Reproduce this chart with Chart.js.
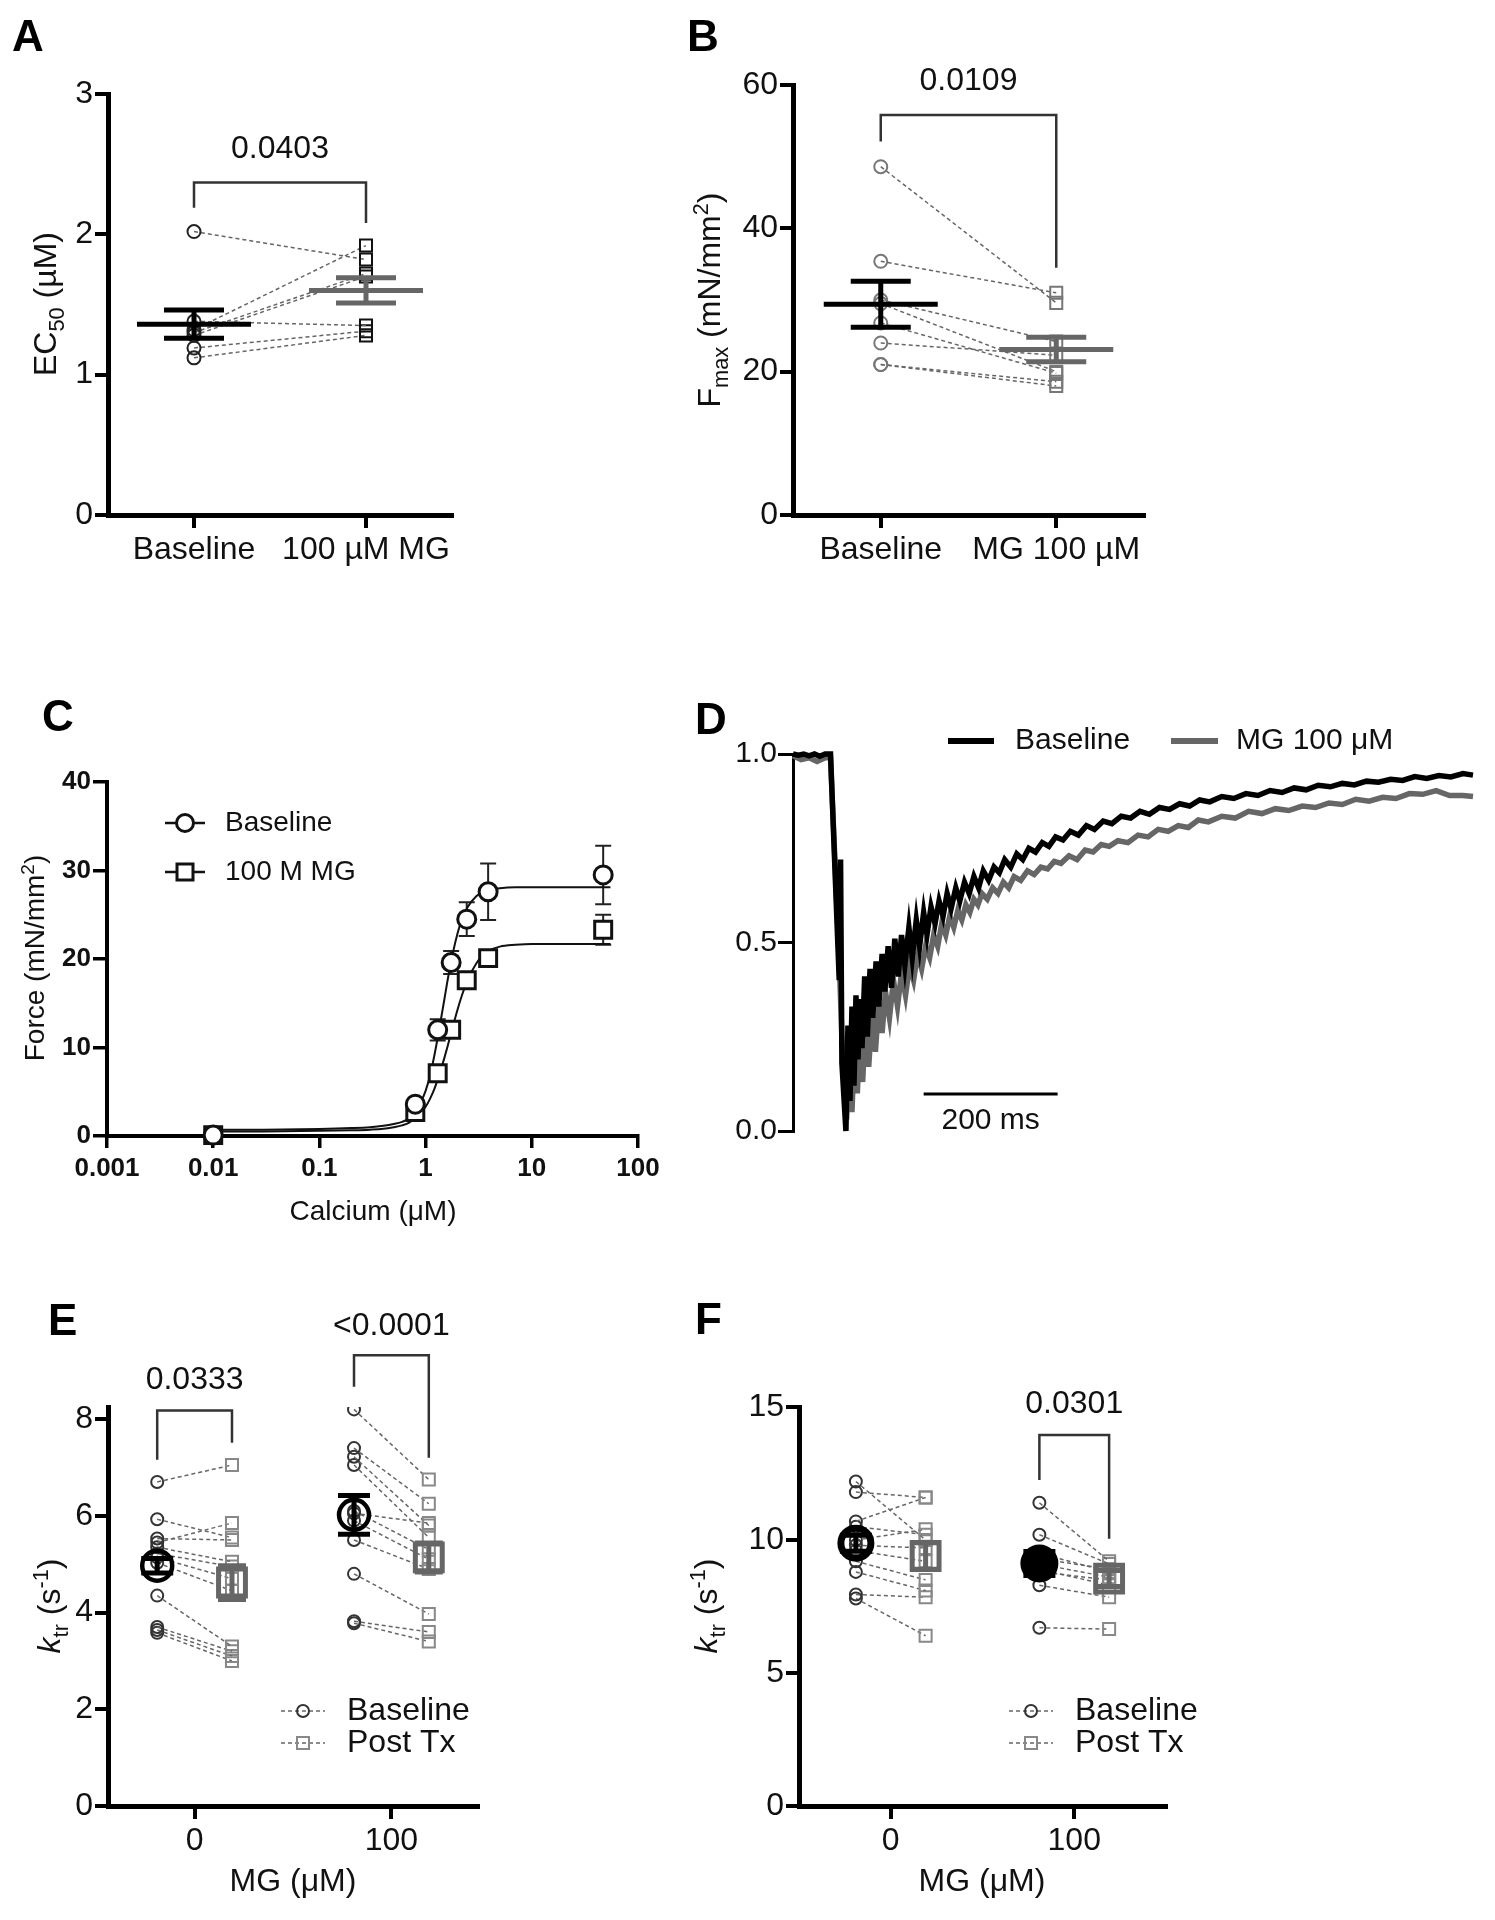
<!DOCTYPE html>
<html>
<head>
<meta charset="utf-8">
<title>MG contractility figure</title>
<script src="https://cdn.jsdelivr.net/npm/chart.js@4.4.1/dist/chart.umd.min.js"></script>
<style>
  html, body { margin: 0; padding: 0; background: #fff; }
  #page { position: relative; width: 1495px; height: 1920px; overflow: hidden; background: #fff; }
  #page canvas { position: absolute; }
</style>
</head>
<body>
<div id="page">
  <canvas id="chartA" width="690" height="620" style="left:0px;top:0px"></canvas>
  <canvas id="chartB" width="805" height="620" style="left:690px;top:0px"></canvas>
  <canvas id="chartC" width="690" height="620" style="left:0px;top:640px"></canvas>
  <canvas id="chartD" width="805" height="620" style="left:690px;top:640px"></canvas>
  <canvas id="chartE" width="690" height="650" style="left:0px;top:1270px"></canvas>
  <canvas id="chartF" width="805" height="650" style="left:690px;top:1270px"></canvas>
</div>
<script>
// ---------- A: EC50 ----------
const ecCategories = ['Baseline', '100 µM MG'];
const ecBaseline = [2.02, 1.38, 1.32, 1.30, 1.28, 1.19, 1.12];
const ecMG = [1.82, 1.35, 1.92, 1.72, 1.70, 1.31, 1.28];
const ecMean = [1.36, 1.60];
const ecSem = [0.10, 0.09];
const ecTicks = [0, 1, 2, 3];

// ---------- B: Fmax ----------
const fmaxCategories = ['Baseline', 'MG 100 µM'];
const fmaxBaseline = [48.6, 35.4, 30.0, 29.5, 26.8, 24.0, 21.0, 21.0];
const fmaxMG = [29.6, 31.0, 24.2, 20.0, 19.8, 22.3, 18.6, 18.0];
const fmaxMean = [29.4, 23.1];
const fmaxSem = [3.2, 1.7];
const fmaxTicks = [0, 20, 40, 60];

// ---------- C: force-calcium ----------
const calcium = [0.01, 0.8, 1.3, 1.74, 2.44, 3.88, 47];
const forceBaseline = [0.1, 3.6, 12.0, 19.6, 24.5, 27.6, 29.5];
const forceBaselineErr = [0.3, 0.5, 1.2, 1.3, 1.9, 3.2, 3.3];
const forceMG = [0.1, 2.7, 7.1, 12.0, 17.6, 20.1, 23.3];
const forceMGErr = [0.2, 0.4, 0.5, 0.6, 0.7, 0.6, 1.7];
const fitCalcium = [0.01, 0.03, 0.1, 0.2, 0.3, 0.4, 0.5, 0.6, 0.7, 0.8, 0.9, 1.0, 1.1, 1.2, 1.3, 1.4, 1.5, 1.6, 1.7, 1.8, 2.0, 2.2, 2.5, 3.0, 3.5, 4.0, 5.0, 7.0, 10, 20, 55];
const fitBaseline = [0.7, 0.72, 0.8, 0.9, 1.0, 1.15, 1.35, 1.6, 2.0, 2.8, 3.8, 5.1, 6.8, 8.9, 11.1, 13.3, 15.4, 17.4, 19.1, 20.6, 22.9, 24.5, 25.9, 27.1, 27.6, 27.8, 28.0, 28.1, 28.1, 28.1, 28.1];
const fitMG = [0.5, 0.52, 0.58, 0.65, 0.72, 0.82, 1.0, 1.2, 1.5, 2.1, 2.6, 3.3, 4.2, 5.2, 6.4, 7.6, 8.8, 10.0, 11.2, 12.3, 14.3, 15.9, 17.7, 19.5, 20.5, 21.0, 21.4, 21.6, 21.7, 21.7, 21.7];
const calciumTicks = [0.001, 0.01, 0.1, 1, 10, 100];
const calciumTickLabels = ['0.001', '0.01', '0.1', '1', '10', '100'];
const forceTicks = [0, 10, 20, 30, 40];

// ---------- D: ktr traces (ms, normalised force) ----------
const traceTimeBaseline = [0, 8, 16, 24, 32, 40, 48, 56, 69, 71, 73, 79, 82, 85, 88, 91, 94, 97, 100, 103, 107, 111, 115, 119, 124, 128, 133, 137, 142, 147, 152, 157, 162, 167, 173, 178, 184, 189, 195, 200, 206, 212, 218, 224, 230, 236, 243, 249, 256, 263, 270, 277, 284, 292, 300, 308, 316, 325, 334, 343, 352, 362, 372, 382, 392, 403, 414, 426, 438, 450, 463, 476, 490, 504, 518, 532, 547, 562, 577, 592, 607, 622, 640, 658, 676, 694, 712, 730, 748, 766, 784, 802, 820, 838, 856, 874, 892, 910, 928, 946, 964, 982, 1000, 1015];
const traceBaseline = [1.0, 0.997, 1.0, 0.995, 1.0, 0.994, 1.0, 1.0, 0.40, 0.72, 0.18, 0.0, 0.28, 0.08, 0.33, 0.12, 0.36, 0.19, 0.35, 0.22, 0.41, 0.25, 0.43, 0.30, 0.45, 0.33, 0.47, 0.37, 0.49, 0.38, 0.51, 0.41, 0.52, 0.44, 0.54, 0.46, 0.56, 0.49, 0.58, 0.52, 0.595, 0.55, 0.61, 0.57, 0.63, 0.59, 0.645, 0.61, 0.66, 0.63, 0.675, 0.645, 0.69, 0.665, 0.70, 0.685, 0.72, 0.70, 0.735, 0.72, 0.75, 0.74, 0.765, 0.755, 0.78, 0.772, 0.795, 0.785, 0.81, 0.80, 0.822, 0.815, 0.835, 0.83, 0.848, 0.84, 0.858, 0.853, 0.868, 0.862, 0.878, 0.873, 0.887, 0.882, 0.895, 0.89, 0.903, 0.898, 0.91, 0.905, 0.917, 0.913, 0.922, 0.918, 0.928, 0.925, 0.933, 0.93, 0.94, 0.935, 0.943, 0.939, 0.948, 0.944];
const traceTimeMG = [0, 12, 24, 36, 48, 56, 69, 73, 80, 84, 88, 92, 96, 100, 104, 108, 113, 118, 123, 128, 133, 138, 144, 150, 156, 162, 168, 174, 180, 186, 192, 198, 204, 210, 216, 222, 228, 234, 240, 246, 252, 258, 264, 270, 276, 282, 290, 298, 306, 314, 322, 330, 340, 350, 360, 370, 380, 390, 400, 412, 424, 436, 448, 460, 472, 485, 500, 515, 530, 545, 560, 575, 590, 605, 620, 640, 660, 680, 700, 720, 740, 760, 780, 800, 820, 840, 860, 880, 900, 920, 940, 960, 980, 1000, 1015];
const traceMG = [0.995, 0.985, 0.99, 0.98, 0.99, 0.99, 0.45, 0.25, 0.03, 0.22, 0.05, 0.24, 0.10, 0.26, 0.13, 0.29, 0.17, 0.31, 0.21, 0.34, 0.26, 0.37, 0.30, 0.40, 0.33, 0.42, 0.36, 0.44, 0.40, 0.47, 0.43, 0.49, 0.46, 0.52, 0.49, 0.55, 0.52, 0.57, 0.54, 0.585, 0.56, 0.60, 0.58, 0.615, 0.60, 0.63, 0.615, 0.645, 0.63, 0.66, 0.645, 0.675, 0.665, 0.69, 0.68, 0.70, 0.695, 0.715, 0.71, 0.73, 0.72, 0.745, 0.74, 0.76, 0.755, 0.77, 0.765, 0.785, 0.78, 0.80, 0.795, 0.81, 0.805, 0.825, 0.82, 0.835, 0.83, 0.848, 0.842, 0.855, 0.85, 0.862, 0.858, 0.87, 0.866, 0.88, 0.875, 0.885, 0.882, 0.895, 0.893, 0.903, 0.89, 0.89, 0.887];
const traceTicks = [0, 0.5, 1];
const scaleBarStartMs = 195;
const scaleBarLengthMs = 200;

// ---------- E / F: ktr ----------
const mgGroups = [0, 100];
const mgTickLabels = ['0', '100'];
const ktrE0Baseline = [6.70, 5.93, 5.53, 5.45, 5.35, 5.22, 5.14, 5.03, 4.35, 3.70, 3.64, 3.58];
const ktrE0Post = [7.05, 5.55, 5.50, 5.85, 5.05, 4.95, 4.70, 4.45, 3.30, 3.20, 3.10, 3.00];
const ktrE100Baseline = [8.20, 7.40, 7.22, 7.05, 6.10, 6.05, 5.90, 5.50, 4.80, 3.82, 3.78];
const ktrE100Post = [6.75, 6.25, 5.80, 5.55, 5.30, 5.85, 5.10, 4.90, 3.97, 3.60, 3.40];
const ktrEMeanBaseline = [4.97, 6.02];
const ktrESemBaseline = [0.15, 0.40];
const ktrEMeanPost = [4.62, 5.14];
const ktrESemPost = [0.35, 0.30];
const ktrETicks = [0, 2, 4, 6, 8];

const ktrF0Baseline = [12.2, 11.8, 10.7, 10.5, 10.0, 9.8, 9.6, 9.2, 8.8, 7.95, 7.8];
const ktrF0Post = [10.0, 11.6, 11.6, 10.2, 10.4, 9.7, 9.2, 8.5, 8.1, 7.85, 6.4];
const ktrF100Baseline = [11.4, 10.2, 9.5, 9.3, 9.1, 8.9, 8.8, 8.3, 6.7];
const ktrF100Post = [9.2, 9.1, 8.8, 8.9, 8.6, 8.3, 8.5, 7.85, 6.65];
const ktrFMeanBaseline = [9.88, 9.12];
const ktrFSemBaseline = [0.3, 0.45];
const ktrFMeanPost = [9.40, 8.55];
const ktrFSemPost = [0.5, 0.3];
const ktrFTicks = [0, 5, 10, 15];

// ---------- layout ----------
const FAMILY = '"Liberation Sans", Arial, Helvetica, sans-serif';
const INK = '#111';
const PAIR_OFFSET = 19;

const GA = {left: 0, top: 0, w: 690, h: 620, x0: 108, x1: 452, y0: 94, y1: 515, xh: 80};
const GB = {left: 690, top: 0, w: 805, h: 620, x0: 793, x1: 1144, y0: 85, y1: 515, xh: 80};
const GC = {left: 0, top: 640, w: 690, h: 620, x0: 107, x1: 638, y0: 782, y1: 1136, xh: 60};
const GD = {left: 690, top: 640, w: 805, h: 620, x0: 793, x1: 1473, y0: 754, y1: 1131, xh: 0};
const GE = {left: 0, top: 1270, w: 690, h: 650, x0: 108, x1: 478, y0: 1407, y1: 1806, xh: 60};
const GF = {left: 690, top: 1270, w: 805, h: 650, x0: 799, x1: 1166, y0: 1407, y1: 1806, xh: 60};

const cssFont = (size, weight, style) => `${style || 'normal'} ${weight || 'normal'} ${size}px ${FAMILY}`;

function axis(g, which, o) {
  const a = Object.assign({
    grid: {drawOnChartArea: false, drawTicks: true, tickLength: o.tick || 13, color: '#000', lineWidth: o.tickWidth || 4, offset: false},
    border: {display: true, color: '#000', width: o.border || 5},
    ticks: {color: INK, padding: o.pad == null ? 2 : o.pad, autoSkip: false, maxRotation: 0,
            font: {family: FAMILY, size: o.size || 32, weight: o.weight || 'normal'}},
  }, o.scale || {});
  a.afterFit = which === 'y' ? s => { s.width = g.x0 - g.left; } : s => { s.height = g.xh; };
  if (o.values) a.afterBuildTicks = s => { s.ticks = o.values.map(v => ({value: v})); };
  if (o.callback) a.ticks.callback = o.callback;
  return a;
}

function options(g, scales) {
  return {
    responsive: false, animation: false, events: [],
    layout: {padding: {left: 0, right: g.left + g.w - g.x1, top: g.y0 - g.top, bottom: g.top + g.h - g.y1 - g.xh}},
    plugins: {legend: {display: false}, tooltip: {enabled: false}},
    scales,
  };
}

// text written in page coordinates
function pageText(g, draw) {
  return {
    id: 'pageText',
    afterDraw(chart) {
      const ctx = chart.ctx;
      ctx.save();
      ctx.translate(-g.left, -g.top);
      draw(ctx, chart);
      ctx.restore();
    }
  };
}

function letter(ctx, t, x, y) {
  ctx.font = cssFont(44, 'bold');
  ctx.fillStyle = '#000';
  ctx.textAlign = 'left';
  ctx.textBaseline = 'alphabetic';
  ctx.fillText(t, x, y);
}

function plain(ctx, t, x, y, size, align) {
  ctx.font = cssFont(size);
  ctx.fillStyle = INK;
  ctx.textAlign = align || 'center';
  ctx.textBaseline = 'middle';
  ctx.fillText(t, x, y);
}

// parts: [text, mode] with mode '', 'sub', 'sup', 'i'
function rich(ctx, parts, x, y, size, rotate) {
  ctx.save();
  ctx.translate(x, y);
  if (rotate) ctx.rotate(-Math.PI / 2);
  ctx.fillStyle = INK;
  ctx.textAlign = 'left';
  ctx.textBaseline = rotate ? 'alphabetic' : 'middle';
  const pieces = parts.map(([t, mode]) => {
    const small = mode === 'sub' || mode === 'sup';
    const f = cssFont(small ? size * 0.68 : size, 'normal', mode === 'i' ? 'italic' : 'normal');
    ctx.font = f;
    return {t, f, w: ctx.measureText(t).width, dy: mode === 'sub' ? size * 0.26 : mode === 'sup' ? -size * 0.36 : 0};
  });
  let cx = -pieces.reduce((s, p) => s + p.w, 0) / 2;
  pieces.forEach(p => { ctx.font = p.f; ctx.fillText(p.t, cx, p.dy); cx += p.w; });
  ctx.restore();
}

function bracket(chart, b) {
  const {ctx, scales: {x, y}} = chart;
  const xa = x.getPixelForValue(b.from), xb = x.getPixelForValue(b.to);
  const yt = y.getPixelForValue(b.top);
  ctx.save();
  ctx.strokeStyle = '#333';
  ctx.lineWidth = 2.5;
  ctx.beginPath();
  ctx.moveTo(xa, y.getPixelForValue(b.leftEnd));
  ctx.lineTo(xa, yt);
  ctx.lineTo(xb, yt);
  ctx.lineTo(xb, y.getPixelForValue(b.rightEnd));
  ctx.stroke();
  ctx.font = cssFont(32);
  ctx.fillStyle = INK;
  ctx.textAlign = 'center';
  ctx.textBaseline = 'middle';
  ctx.fillText(b.label, (xa + xb) / 2, y.getPixelForValue(b.labelAt));
  ctx.restore();
}

function errorBar(ctx, x, yTop, yBot, half, width, color) {
  ctx.strokeStyle = color;
  ctx.lineWidth = width;
  ctx.beginPath();
  ctx.moveTo(x, yTop); ctx.lineTo(x, yBot);
  ctx.moveTo(x - half, yTop); ctx.lineTo(x + half, yTop);
  ctx.moveTo(x - half, yBot); ctx.lineTo(x + half, yBot);
  ctx.stroke();
}

// mean line with SEM for the paired category plots
function meanPlugin(mean, sem, colors, brk) {
  return {
    id: 'meanMarks',
    afterDatasetsDraw(chart) {
      const {ctx, scales: {x, y}} = chart;
      ctx.save();
      ctx.lineCap = 'butt';
      mean.forEach((m, i) => {
        const cx = x.getPixelForValue(i);
        const cy = y.getPixelForValue(m);
        errorBar(ctx, cx, y.getPixelForValue(m + sem[i]), y.getPixelForValue(m - sem[i]), 30, 5, colors[i]);
        ctx.lineWidth = 5;
        ctx.beginPath();
        ctx.moveTo(cx - 57, cy); ctx.lineTo(cx + 57, cy);
        ctx.stroke();
      });
      ctx.restore();
      bracket(chart, brk);
    }
  };
}

function pairedCategory(id, g, cats, base, treat, ptColors, yMax, yTicks, meanP, textP) {
  return new Chart(document.getElementById(id), {
    type: 'line',
    data: {
      labels: cats,
      datasets: base.map((b, i) => ({
        data: [b, treat[i]],
        borderColor: '#666', borderWidth: 1.5, borderDash: [4, 3],
        pointStyle: ['circle', 'rect'], pointRadius: [6.5, 8.5], pointBorderWidth: 2,
        pointBorderColor: ptColors, pointBackgroundColor: 'rgba(255,255,255,0)',
        clip: false,
      })),
    },
    options: options(g, {
      x: axis(g, 'x', {pad: 3, scale: {type: 'category', offset: true}}),
      y: axis(g, 'y', {values: yTicks, scale: {min: 0, max: yMax}}),
    }),
    plugins: [meanP, textP],
  });
}

// ---------- A ----------
pairedCategory('chartA', GA, ecCategories, ecBaseline, ecMG, ['#222', '#111'], 3, ecTicks,
  meanPlugin(ecMean, ecSem, ['#000', '#666'], {from: 0, to: 1, top: 2.37, leftEnd: 2.19, rightEnd: 2.08, label: '0.0403', labelAt: 2.61}),
  pageText(GA, ctx => {
    letter(ctx, 'A', 12, 51);
    rich(ctx, [['EC', ''], ['50', 'sub'], [' (µM)', '']], 56, 304, 32, true);
  }));

// ---------- B ----------
pairedCategory('chartB', GB, fmaxCategories, fmaxBaseline, fmaxMG, ['#777', '#777'], 60, fmaxTicks,
  meanPlugin(fmaxMean, fmaxSem, ['#000', '#666'], {from: 0, to: 1, top: 55.8, leftEnd: 52.1, rightEnd: 34.5, label: '0.0109', labelAt: 60.6}),
  pageText(GB, ctx => {
    letter(ctx, 'B', 687, 51);
    rich(ctx, [['F', ''], ['max', 'sub'], [' (mN/mm', ''], ['2', 'sup'], [')', '']], 720, 300, 32, true);
  }));

// ---------- C ----------
const xy = (xs, ys) => xs.map((v, i) => ({x: v, y: ys[i]}));

new Chart(document.getElementById('chartC'), {
  type: 'scatter',
  data: {
    datasets: [
      {data: xy(calcium, forceBaseline), pointStyle: 'circle', pointRadius: 9, pointBorderWidth: 3,
       pointBorderColor: '#111', pointBackgroundColor: '#fff', showLine: false, clip: false},
      {data: xy(calcium, forceMG), pointStyle: 'rect', pointRadius: 12, pointBorderWidth: 3,
       pointBorderColor: '#111', pointBackgroundColor: '#fff', showLine: false, clip: false},
      {data: xy(fitCalcium, fitBaseline), showLine: true, pointRadius: 0, borderColor: '#111', borderWidth: 2,
       cubicInterpolationMode: 'monotone'},
      {data: xy(fitCalcium, fitMG), showLine: true, pointRadius: 0, borderColor: '#111', borderWidth: 2,
       cubicInterpolationMode: 'monotone'},
    ],
  },
  options: options(GC, {
    x: axis(GC, 'x', {values: calciumTicks, size: 26, weight: 'bold', pad: 5, tick: 12, tickWidth: 3.5, border: 4,
                      callback: (v, i) => calciumTickLabels[i], scale: {type: 'logarithmic', min: 0.001, max: 100}}),
    y: axis(GC, 'y', {values: forceTicks, size: 26, weight: 'bold', tick: 14, tickWidth: 3.5, border: 4,
                      scale: {min: 0, max: 40}}),
  }),
  plugins: [
    {
      id: 'forceErrors',
      beforeDatasetsDraw(chart) {
        const {ctx, scales: {x, y}} = chart;
        ctx.save();
        [[forceBaseline, forceBaselineErr], [forceMG, forceMGErr]].forEach(([ys, es]) => {
          calcium.forEach((c, i) => {
            errorBar(ctx, x.getPixelForValue(c), y.getPixelForValue(ys[i] + es[i]), y.getPixelForValue(ys[i] - es[i]), 8, 2, '#222');
          });
        });
        ctx.restore();
      }
    },
    pageText(GC, ctx => {
      letter(ctx, 'C', 42, 731);
      rich(ctx, [['Force (mN/mm', ''], ['2', 'sup'], [')', '']], 44, 958, 28, true);
      plain(ctx, 'Calcium (μM)', 373, 1212, 28);
      // legend
      ctx.strokeStyle = '#111';
      ctx.lineWidth = 2.5;
      ctx.beginPath();
      ctx.moveTo(165, 823); ctx.lineTo(205, 823);
      ctx.moveTo(165, 872); ctx.lineTo(205, 872);
      ctx.stroke();
      ctx.fillStyle = '#fff';
      ctx.lineWidth = 3;
      ctx.beginPath(); ctx.arc(185, 823, 8.5, 0, Math.PI * 2); ctx.fill(); ctx.stroke();
      ctx.fillRect(177, 864, 16, 16); ctx.strokeRect(177, 864, 16, 16);
      plain(ctx, 'Baseline', 225, 823, 28, 'left');
      plain(ctx, '100 M MG', 225, 872, 28, 'left');
    }),
  ],
});

// ---------- D ----------
new Chart(document.getElementById('chartD'), {
  type: 'scatter',
  data: {
    datasets: [
      {data: xy(traceTimeBaseline, traceBaseline), showLine: true, pointRadius: 0, borderColor: '#000', borderWidth: 5.5, clip: false},
      {data: xy(traceTimeMG, traceMG), showLine: true, pointRadius: 0, borderColor: '#666', borderWidth: 5.5, clip: false},
    ],
  },
  options: options(GD, {
    x: {type: 'linear', min: 0, max: 1015, display: false},
    y: axis(GD, 'y', {values: traceTicks, size: 30, tick: 15, tickWidth: 3, border: 3, pad: 1,
                      callback: v => v.toFixed(1), scale: {min: 0, max: 1}}),
  }),
  plugins: [
    {
      id: 'scaleBar',
      afterDatasetsDraw(chart) {
        const {ctx, scales: {x, y}} = chart;
        const xa = x.getPixelForValue(scaleBarStartMs);
        const xb = x.getPixelForValue(scaleBarStartMs + scaleBarLengthMs);
        ctx.save();
        ctx.strokeStyle = '#000';
        ctx.lineWidth = 3;
        ctx.beginPath();
        ctx.moveTo(xa, y.getPixelForValue(0.098));
        ctx.lineTo(xb, y.getPixelForValue(0.098));
        ctx.stroke();
        plain(ctx, scaleBarLengthMs + ' ms', (xa + xb) / 2, y.getPixelForValue(0.027), 30);
        ctx.restore();
      }
    },
    pageText(GD, ctx => {
      letter(ctx, 'D', 695, 734);
      ctx.lineWidth = 6;
      ctx.strokeStyle = '#000';
      ctx.beginPath(); ctx.moveTo(948, 741); ctx.lineTo(994, 741); ctx.stroke();
      ctx.strokeStyle = '#666';
      ctx.beginPath(); ctx.moveTo(1171, 741); ctx.lineTo(1218, 741); ctx.stroke();
      plain(ctx, 'Baseline', 1015, 741, 30, 'left');
      plain(ctx, 'MG 100 μM', 1236, 741, 30, 'left');
    }),
  ],
});

// ---------- E / F ----------
function pairSets(groupX, base, post) {
  return base.map((b, i) => ({
    data: [{x: groupX - PAIR_OFFSET, y: b}, {x: groupX + PAIR_OFFSET, y: post[i]}],
    showLine: true, borderColor: '#666', borderWidth: 1.5, borderDash: [4, 3],
    pointStyle: ['circle', 'rect'], pointRadius: [6, 8.5], pointBorderWidth: 2,
    pointBorderColor: ['#333', '#888'], pointBackgroundColor: 'rgba(255,255,255,0)',
  }));
}

function ktrChart(id, g, xMin, xMax, yMax, yTicks, groups, means, brackets, text, baseStyle) {
  const [mb, sb, mp, sp] = means;
  return new Chart(document.getElementById(id), {
    type: 'scatter',
    data: {
      datasets: [
        {data: mgGroups.map((m, i) => ({x: m - PAIR_OFFSET, y: mb[i]})), pointStyle: 'circle', pointRadius: 15,
         pointBorderWidth: baseStyle.width, pointBorderColor: '#000', pointBackgroundColor: baseStyle.fill, showLine: false},
        {data: mgGroups.map((m, i) => ({x: m + PAIR_OFFSET, y: mp[i]})), pointStyle: 'rect', pointRadius: 19,
         pointBorderWidth: 5, pointBorderColor: '#666', pointBackgroundColor: 'rgba(255,255,255,0)', showLine: false},
        ...groups.flatMap(([gx, b, p]) => pairSets(gx, b, p)),
      ],
    },
    options: options(g, {
      x: axis(g, 'x', {values: mgGroups, pad: 3, callback: (v, i) => mgTickLabels[i], scale: {type: 'linear', min: xMin, max: xMax}}),
      y: axis(g, 'y', {values: yTicks, scale: {min: 0, max: yMax}}),
    }),
    plugins: [
      {
        id: 'ktrMarks',
        afterDatasetsDraw(chart) {
          const {ctx, scales: {x, y}} = chart;
          ctx.save();
          mgGroups.forEach((m, i) => {
            errorBar(ctx, x.getPixelForValue(m - PAIR_OFFSET), y.getPixelForValue(mb[i] + sb[i]), y.getPixelForValue(mb[i] - sb[i]), 16, 5, '#000');
            errorBar(ctx, x.getPixelForValue(m + PAIR_OFFSET), y.getPixelForValue(mp[i] + sp[i]), y.getPixelForValue(mp[i] - sp[i]), 14, 5, '#666');
          });
          ctx.restore();
          brackets.forEach(b => bracket(chart, b));
        }
      },
      pageText(g, text),
    ],
  });
}

function ktrLegend(ctx, x0) {
  ctx.save();
  ctx.strokeStyle = '#666';
  ctx.lineWidth = 1.5;
  ctx.setLineDash([4, 3]);
  ctx.beginPath();
  ctx.moveTo(x0, 1711); ctx.lineTo(x0 + 44, 1711);
  ctx.moveTo(x0, 1743); ctx.lineTo(x0 + 44, 1743);
  ctx.stroke();
  ctx.setLineDash([]);
  ctx.lineWidth = 2;
  ctx.strokeStyle = '#333';
  ctx.beginPath(); ctx.arc(x0 + 22, 1711, 6, 0, Math.PI * 2); ctx.stroke();
  ctx.strokeStyle = '#888';
  ctx.strokeRect(x0 + 16, 1737, 12, 12);
  ctx.restore();
  plain(ctx, 'Baseline', x0 + 66, 1711, 32, 'left');
  plain(ctx, 'Post Tx', x0 + 66, 1743, 32, 'left');
}

ktrChart('chartE', GE, -44, 144, 8.25, ktrETicks,
  [[0, ktrE0Baseline, ktrE0Post], [100, ktrE100Baseline, ktrE100Post]],
  [ktrEMeanBaseline, ktrESemBaseline, ktrEMeanPost, ktrESemPost],
  [{from: -19, to: 19, top: 8.18, leftEnd: 7.16, rightEnd: 7.51, label: '0.0333', labelAt: 8.81},
   {from: 81, to: 119, top: 9.32, leftEnd: 8.67, rightEnd: 7.2, label: '<0.0001', labelAt: 9.93}],
  ctx => {
    letter(ctx, 'E', 48, 1335);
    rich(ctx, [['k', 'i'], ['tr', 'sub'], [' (s', ''], ['-1', 'sup'], [')', '']], 60, 1606, 32, true);
    plain(ctx, 'MG (μM)', 293, 1882, 32);
    ktrLegend(ctx, 281);
  }, {width: 4.5, fill: 'rgba(255,255,255,0)'});

ktrChart('chartF', GF, -50, 150, 15, ktrFTicks,
  [[0, ktrF0Baseline, ktrF0Post], [100, ktrF100Baseline, ktrF100Post]],
  [ktrFMeanBaseline, ktrFSemBaseline, ktrFMeanPost, ktrFSemPost],
  [{from: 81, to: 119, top: 13.95, leftEnd: 12.26, rightEnd: 10.05, label: '0.0301', labelAt: 15.1}],
  ctx => {
    letter(ctx, 'F', 695, 1334);
    rich(ctx, [['k', 'i'], ['tr', 'sub'], [' (s', ''], ['-1', 'sup'], [')', '']], 717, 1606, 32, true);
    plain(ctx, 'MG (μM)', 982, 1882, 32);
    ktrLegend(ctx, 1009);
  }, {width: [7, 8], fill: ['rgba(255,255,255,0)', '#000']});
</script>
</body>
</html>
